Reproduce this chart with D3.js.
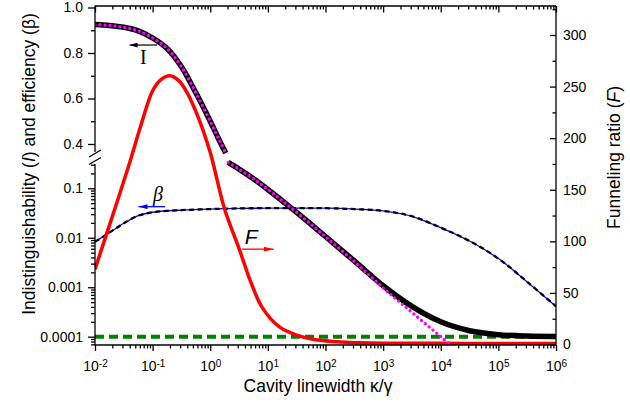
<!DOCTYPE html>
<html><head><meta charset="utf-8">
<script src="https://cdn.jsdelivr.net/npm/d3@7"></script>
<style>
html,body{margin:0;padding:0;background:#fff;}
svg{display:block;font-family:"Liberation Sans",Arial,Helvetica,sans-serif;}
</style></head><body>
<svg id="chart" width="630" height="405"></svg>
<script>
// ---------- data (x given as log10 of kappa/gamma) ----------
const kappaExpI = [-2,-1.75,-1.5,-1.25,-1,-0.75,-0.5,-0.25,0,0.15,0.27,0.31,0.5,0.75,1,1.25,1.5,1.75,2,2.5,3,3.5,4,4.5,5,5.5,6];
const indistTotal = [0.925,0.921,0.913,0.897,0.866,0.82,0.74,0.625,0.50,0.42,0.36,0.333,0.244,0.156,0.0948,0.0558,0.0325,0.0186,0.0106,0.0034,0.00107,0.00041,0.0002,0.000132,0.00011,0.000103,0.000101];
const kappaExpI0 = [-2,-1.75,-1.5,-1.25,-1,-0.75,-0.5,-0.25,0,0.15,0.27,0.31,0.5,0.75,1,1.25,1.5,1.75,2,2.5,3,3.5,4,4.5];
const indistIdeal = [0.925,0.921,0.913,0.897,0.866,0.82,0.74,0.625,0.50,0.42,0.36,0.333,0.244,0.156,0.0948,0.0558,0.0325,0.0186,0.0105,0.0033,0.00097,0.00031,0.0001,0.000032];
const kappaExpBeta = [-2,-1.75,-1.5,-1.25,-1,-0.75,-0.5,0,0.5,1,1.5,2,2.5,3,3.5,4,4.5,5,5.5,6];
const efficiency = [0.0083,0.0127,0.0196,0.0280,0.0328,0.0350,0.0362,0.038,0.0392,0.0397,0.0399,0.0396,0.038,0.035,0.0272,0.016,0.0086,0.0038,0.00128,0.00041];
const kappaExpF = [-2,-1.8,-1.6,-1.4,-1.2,-1,-0.85,-0.7,-0.55,-0.4,-0.2,0,0.25,0.5,0.7,0.9,1.2,1.5,1.8,2.2,2.6,3,4,5,6];
const funneling = [73,107,141,176,213,246,257,260.5,256,244,219,186,131,93,61,36,17,9,4.8,2.6,1.7,1.3,1.1,1.0,1.0];
const backgroundExp = [-2,6];
const backgroundLevel = [1e-4,1e-4];

const xTickExp = [-2,-1,0,1,2,3,4,5,6];
const yUpperTicks = [0.4,0.6,0.8,1.0];
const yUpperLabels = ["0.4","0.6","0.8","1.0"];
const yUpperMinor = [0.5,0.7,0.9];
const yLowerTicks = [1e-4,1e-3,1e-2,1e-1];
const yLowerLabels = ["0.0001","0.001","0.01","0.1"];
const fTicks = [0,50,100,150,200,250,300];
const fMinor = [25,75,125,175,225,275,325];

// ---------- layout ----------
const L=95, R=556, T=6, B=345;
const svg = d3.select("#chart");
const x = d3.scaleLog().domain([1e-2,1e6]).range([L,R]);
const yUp = d3.scaleLinear().domain([0.4,1.0]).range([144,7.5]);
const yLo = d3.scaleLog().domain([1e-4,1e-1]).range([336.7,188.3]);
const yF = d3.scaleLinear().domain([0,300]).range([344.5,35]);
const BREAK = 0.35;
const k = e => Math.pow(10,e);

svg.append("defs").append("clipPath").attr("id","plot")
  .append("rect").attr("x",L).attr("y",T).attr("width",R-L).attr("height",B-T);

function mk(id,color,w,h){
  svg.select("defs").append("marker").attr("id",id)
    .attr("markerUnits","userSpaceOnUse").attr("markerWidth",w).attr("markerHeight",h)
    .attr("refX",w).attr("refY",h/2).attr("orient","auto")
    .append("path").attr("d",`M0,0L${w},${h/2}L0,${h}Z`).attr("fill",color);
}
mk("arrK","#000",8,5); mk("arrB","#0000ff",9,5); mk("arrR","#ff0000",10,5);

const plot = svg.append("g").attr("clip-path","url(#plot)");

const crv = d3.curveCatmullRom.alpha(0.5);
const lineF = d3.line().x(d=>x(k(d[0]))).y(d=>yF(d[1])).curve(crv);
const lineLo = d3.line().x(d=>x(k(d[0]))).y(d=>yLo(d[1])).curve(crv);
const lineUp = d3.line().x(d=>x(k(d[0]))).y(d=>yUp(d[1])).curve(crv);

function pairs(xs,ys){return xs.map((e,i)=>[e,ys[i]]);}
function iPath(xs,ys){
  const p = pairs(xs,ys);
  return {up: lineUp(p.filter(d=>d[1]>=BREAK)), lo: lineLo(p.filter(d=>d[1]<BREAK))};
}

// background (green dashed)
plot.append("path").attr("d",lineLo(pairs(backgroundExp,backgroundLevel)))
  .attr("fill","none").attr("stroke","#008000").attr("stroke-width",4).attr("stroke-dasharray","9,5");

// beta
const pb = lineLo(pairs(kappaExpBeta,efficiency));
plot.append("path").attr("d",pb).attr("fill","none").attr("stroke","#0000ff").attr("stroke-width",1.3);
plot.append("path").attr("d",pb).attr("fill","none").attr("stroke","#000").attr("stroke-width",2.3).attr("stroke-dasharray","5,3.5");

// F
plot.append("path").attr("d",lineF(pairs(kappaExpF,funneling)))
  .attr("fill","none").attr("stroke","#ff0000").attr("stroke-width",3.5);

// I total (black)
const it = iPath(kappaExpI,indistTotal);
[it.up,it.lo].forEach(d=>plot.append("path").attr("d",d).attr("fill","none").attr("stroke","#000").attr("stroke-width",5.5));
// I ideal (magenta dots)
const ii = iPath(kappaExpI0,indistIdeal);
[ii.up,ii.lo].forEach(d=>plot.append("path").attr("d",d).attr("fill","none").attr("stroke","#ff00ff")
  .attr("stroke-width",3.4).attr("stroke-linecap","round").attr("stroke-dasharray","0,5"));

// ---------- axes ----------
const axW = 1.3;
function styleAxis(g){ g.select(".domain").remove(); g.selectAll("line").attr("stroke","#000").attr("stroke-width",axW);
  g.selectAll("text").attr("font-size","14px").attr("fill","#000").attr("font-family",'"Liberation Sans",Arial,sans-serif'); }

const xMinor = [];
for(let e=-2;e<6;e++) for(let m=2;m<=9;m++) xMinor.push(m*Math.pow(10,e));
const xMajor = xTickExp.map(k);

// bottom
const gB = svg.append("g").attr("transform",`translate(0,${B})`)
  .call(d3.axisBottom(x).tickValues(xMajor).tickSize(6).tickPadding(10)).call(styleAxis);
gB.selectAll(".tick text").each(function(d){
  const t=d3.select(this); t.text(null);
  t.append("tspan").text("10");
  t.append("tspan").attr("dy","-0.42em").attr("font-size","10px").text(String(Math.round(Math.log10(d))));
});
svg.append("g").attr("transform",`translate(0,${B})`)
  .call(d3.axisBottom(x).tickValues(xMinor).tickSize(3.5).tickFormat("")).call(styleAxis);
// top (inward)
svg.append("g").attr("transform",`translate(0,${T})`)
  .call(d3.axisBottom(x).tickValues(xMajor).tickSize(6.5).tickFormat("")).call(styleAxis);
svg.append("g").attr("transform",`translate(0,${T})`)
  .call(d3.axisBottom(x).tickValues(xMinor).tickSize(3.5).tickFormat("")).call(styleAxis);

// left upper
svg.append("g").attr("transform",`translate(${L},0)`)
  .call(d3.axisLeft(yUp).tickValues(yUpperTicks).tickSize(7).tickPadding(5).tickFormat((d,i)=>yUpperLabels[i])).call(styleAxis);
svg.append("g").attr("transform",`translate(${L},0)`)
  .call(d3.axisLeft(yUp).tickValues(yUpperMinor).tickSize(4).tickFormat("")).call(styleAxis);
// left lower
const yLoMinor=[];
for(let e=-5;e<0;e++) for(let m=2;m<=9;m++){const v=m*Math.pow(10,e); if(yLo(v)<=B+0.5 && yLo(v)>=163) yLoMinor.push(v);}
svg.append("g").attr("transform",`translate(${L},0)`)
  .call(d3.axisLeft(yLo).tickValues(yLowerTicks).tickSize(7).tickPadding(5).tickFormat((d,i)=>yLowerLabels[i])).call(styleAxis);
svg.append("g").attr("transform",`translate(${L},0)`)
  .call(d3.axisLeft(yLo).tickValues(yLoMinor).tickSize(4).tickFormat("")).call(styleAxis);
// right (inward ticks)
svg.append("g").attr("transform",`translate(${R},0)`)
  .call(d3.axisRight(yF).tickValues(fTicks).tickSize(-6).tickPadding(7)).call(styleAxis);
svg.append("g").attr("transform",`translate(${R},0)`)
  .call(d3.axisRight(yF).tickValues(fMinor.filter(v=>yF(v)>=T)).tickSize(-3.5).tickFormat("")).call(styleAxis);

// frame
const fr = svg.append("g").attr("stroke","#000").attr("stroke-width",axW).attr("fill","none");
fr.append("line").attr("x1",L).attr("x2",R).attr("y1",T).attr("y2",T);
fr.append("line").attr("x1",L).attr("x2",R).attr("y1",B).attr("y2",B);
fr.append("line").attr("x1",R).attr("x2",R).attr("y1",T).attr("y2",B);
fr.append("line").attr("x1",L).attr("x2",L).attr("y1",T-0.6).attr("y2",152);
fr.append("line").attr("x1",L).attr("x2",L).attr("y1",164).attr("y2",B+0.6);
fr.append("line").attr("x1",89).attr("y1",157).attr("x2",101).attr("y2",150);
fr.append("line").attr("x1",89).attr("y1",164.5).attr("x2",101).attr("y2",157.5);

// ---------- annotations ----------
svg.append("line").attr("x1",x(k(-0.924))).attr("x2",x(k(-1.40))).attr("y1",yUp(0.835)).attr("y2",yUp(0.835))
  .attr("stroke","#000").attr("stroke-width",1.2).attr("marker-end","url(#arrK)");
svg.append("text").attr("x",x(k(-1.161))).attr("y",yUp(0.752)).attr("text-anchor","middle")
  .attr("font-family",'"Liberation Serif","Times New Roman",serif').attr("font-size","20px").text("I");
svg.append("line").attr("x1",x(k(-0.785))).attr("x2",x(k(-1.245))).attr("y1",yLo(0.0425)).attr("y2",yLo(0.0425))
  .attr("stroke","#0000ff").attr("stroke-width",1.3).attr("marker-end","url(#arrB)");
svg.append("text").attr("x",x(k(-0.906))).attr("y",yLo(0.0553)).attr("text-anchor","middle")
  .attr("font-family",'"Liberation Serif","Times New Roman",serif').attr("font-style","italic").attr("font-size","20px").text("β");
svg.append("line").attr("x1",x(k(0.552))).attr("x2",x(k(1.10))).attr("y1",yF(92.4)).attr("y2",yF(92.4))
  .attr("stroke","#ff0000").attr("stroke-width",1.3).attr("marker-end","url(#arrR)");
svg.append("text").attr("x",x(k(0.60))).attr("y",yF(97.7))
  .attr("font-style","italic").attr("font-size","21px").text("F");

// ---------- titles ----------
svg.append("text").attr("x",318).attr("y",392).attr("text-anchor","middle").attr("font-size","17.5px").text("Cavity linewidth κ/γ");
const lt = svg.append("text").attr("transform","translate(35,164) rotate(-90)").attr("text-anchor","middle").attr("font-size","17.5px");
lt.append("tspan").text("Indistinguishability (");
lt.append("tspan").attr("font-style","italic").text("I");
lt.append("tspan").text(") and efficiency (β)");
const rt = svg.append("text").attr("transform","translate(620,157.5) rotate(-90)").attr("text-anchor","middle").attr("font-size","17.5px");
rt.append("tspan").text("Funneling ratio (");
rt.append("tspan").attr("font-style","italic").text("F");
rt.append("tspan").text(")");
</script>
</body></html>
